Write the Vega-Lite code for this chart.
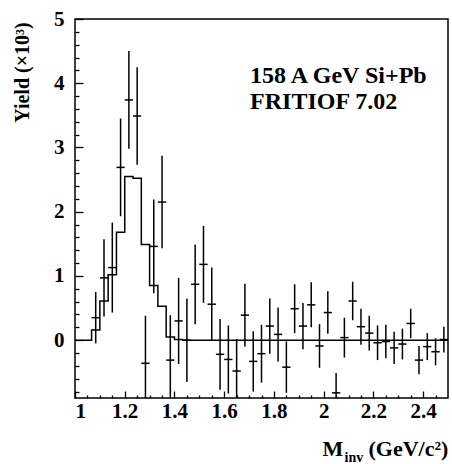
{
  "$schema": "https://vega.github.io/schema/vega-lite/v6.json",
  "width": 373,
  "height": 379,
  "autosize": "none",
  "padding": {"left": 75, "top": 19, "right": 4, "bottom": 66},
  "background": "white",
  "config": {
    "view": {"stroke": "black", "strokeWidth": 1.5},
    "font": "Liberation Serif",
    "axis": {"grid": false, "domain": false, "tickColor": "black", "tickWidth": 1.3, "labelColor": "black", "titleColor": "black", "labelFont": "Liberation Serif", "titleFont": "Liberation Serif", "labelFontWeight": "bold", "titleFontWeight": "bold", "labelFontSize": 21, "titleFontSize": 20}
  },
  "datasets": {
    "hist": [
      {"x": 1.0, "y": 0}, {"x": 1.0667, "y": 0.16}, {"x": 1.1, "y": 0.61}, {"x": 1.1333, "y": 1.02},
      {"x": 1.1667, "y": 1.68}, {"x": 1.2, "y": 2.55}, {"x": 1.2333, "y": 2.52}, {"x": 1.2667, "y": 1.49},
      {"x": 1.3, "y": 0.85}, {"x": 1.3333, "y": 0.53}, {"x": 1.3667, "y": 0.05}, {"x": 1.4, "y": 0.01},
      {"x": 1.4333, "y": 0}, {"x": 2.5, "y": 0}
    ],
    "pts": [
      {"x": 1.0833, "y": 0.35, "lo": -0.05, "hi": 0.75, "xl": 1.0667, "xr": 1.1},
      {"x": 1.1167, "y": 0.97, "lo": 0.37, "hi": 1.57, "xl": 1.1, "xr": 1.1333},
      {"x": 1.15, "y": 1.13, "lo": 0.43, "hi": 1.83, "xl": 1.1333, "xr": 1.1667},
      {"x": 1.1833, "y": 2.69, "lo": 1.93, "hi": 3.45, "xl": 1.1667, "xr": 1.2},
      {"x": 1.2167, "y": 3.74, "lo": 2.98, "hi": 4.5, "xl": 1.2, "xr": 1.2333},
      {"x": 1.25, "y": 3.49, "lo": 2.73, "hi": 4.25, "xl": 1.2333, "xr": 1.2667},
      {"x": 1.2833, "y": -0.36, "lo": -1.1, "hi": 0.38, "xl": 1.2667, "xr": 1.3},
      {"x": 1.3167, "y": 1.46, "lo": 0.73, "hi": 2.19, "xl": 1.3, "xr": 1.3333},
      {"x": 1.35, "y": 2.15, "lo": 1.43, "hi": 2.87, "xl": 1.3333, "xr": 1.3667},
      {"x": 1.3833, "y": -0.31, "lo": -1.01, "hi": 0.39, "xl": 1.3667, "xr": 1.4},
      {"x": 1.4167, "y": 0.3, "lo": -0.37, "hi": 0.97, "xl": 1.4, "xr": 1.4333},
      {"x": 1.45, "y": 0.0, "lo": -0.65, "hi": 0.65, "xl": 1.4333, "xr": 1.4667},
      {"x": 1.4833, "y": 0.87, "lo": 0.25, "hi": 1.49, "xl": 1.4667, "xr": 1.5},
      {"x": 1.5167, "y": 1.18, "lo": 0.58, "hi": 1.78, "xl": 1.5, "xr": 1.5333},
      {"x": 1.55, "y": 0.56, "lo": -0.01, "hi": 1.13, "xl": 1.5333, "xr": 1.5667},
      {"x": 1.5833, "y": -0.22, "lo": -0.77, "hi": 0.33, "xl": 1.5667, "xr": 1.6},
      {"x": 1.6167, "y": -0.3, "lo": -0.83, "hi": 0.23, "xl": 1.6, "xr": 1.6333},
      {"x": 1.65, "y": -0.48, "lo": -0.98, "hi": 0.02, "xl": 1.6333, "xr": 1.6667},
      {"x": 1.6833, "y": 0.39, "lo": -0.1, "hi": 0.88, "xl": 1.6667, "xr": 1.7},
      {"x": 1.7167, "y": -0.33, "lo": -0.8, "hi": 0.14, "xl": 1.7, "xr": 1.7333},
      {"x": 1.75, "y": -0.21, "lo": -0.66, "hi": 0.24, "xl": 1.7333, "xr": 1.7667},
      {"x": 1.7833, "y": 0.22, "lo": -0.21, "hi": 0.65, "xl": 1.7667, "xr": 1.8},
      {"x": 1.8167, "y": 0.09, "lo": -0.33, "hi": 0.51, "xl": 1.8, "xr": 1.8333},
      {"x": 1.85, "y": -0.42, "lo": -0.82, "hi": -0.02, "xl": 1.8333, "xr": 1.8667},
      {"x": 1.8833, "y": 0.49, "lo": 0.11, "hi": 0.87, "xl": 1.8667, "xr": 1.9},
      {"x": 1.9167, "y": 0.22, "lo": -0.14, "hi": 0.58, "xl": 1.9, "xr": 1.9333},
      {"x": 1.95, "y": 0.55, "lo": 0.2, "hi": 0.9, "xl": 1.9333, "xr": 1.9667},
      {"x": 1.9833, "y": -0.09, "lo": -0.43, "hi": 0.25, "xl": 1.9667, "xr": 2.0},
      {"x": 2.0167, "y": 0.43, "lo": 0.1, "hi": 0.76, "xl": 2.0, "xr": 2.0333},
      {"x": 2.05, "y": -0.82, "lo": -1.13, "hi": -0.51, "xl": 2.0333, "xr": 2.0667},
      {"x": 2.0833, "y": 0.04, "lo": -0.27, "hi": 0.35, "xl": 2.0667, "xr": 2.1},
      {"x": 2.1167, "y": 0.61, "lo": 0.31, "hi": 0.91, "xl": 2.1, "xr": 2.1333},
      {"x": 2.15, "y": 0.21, "lo": -0.07, "hi": 0.49, "xl": 2.1333, "xr": 2.1667},
      {"x": 2.1833, "y": 0.11, "lo": -0.16, "hi": 0.38, "xl": 2.1667, "xr": 2.2},
      {"x": 2.2167, "y": -0.04, "lo": -0.31, "hi": 0.23, "xl": 2.2, "xr": 2.2333},
      {"x": 2.25, "y": -0.02, "lo": -0.28, "hi": 0.24, "xl": 2.2333, "xr": 2.2667},
      {"x": 2.2833, "y": -0.12, "lo": -0.37, "hi": 0.13, "xl": 2.2667, "xr": 2.3},
      {"x": 2.3167, "y": -0.06, "lo": -0.3, "hi": 0.18, "xl": 2.3, "xr": 2.3333},
      {"x": 2.35, "y": 0.26, "lo": 0.03, "hi": 0.49, "xl": 2.3333, "xr": 2.3667},
      {"x": 2.3833, "y": -0.31, "lo": -0.53, "hi": -0.09, "xl": 2.3667, "xr": 2.4},
      {"x": 2.4167, "y": -0.1, "lo": -0.31, "hi": 0.11, "xl": 2.4, "xr": 2.4333},
      {"x": 2.45, "y": -0.18, "lo": -0.39, "hi": 0.03, "xl": 2.4333, "xr": 2.4667},
      {"x": 2.4833, "y": 0.01, "lo": -0.19, "hi": 0.21, "xl": 2.4667, "xr": 2.5}
    ],
    "notes": [
      {"x": 1.704, "y": 4.0, "t": "158 A GeV Si+Pb"},
      {"x": 1.704, "y": 3.6, "t": "FRITIOF 7.02"}
    ]
  },
  "resolve": {"axis": {"x": "independent", "y": "independent"}},
  "layer": [
    {
      "data": {"name": "hist"},
      "mark": {"type": "line", "interpolate": "step-after", "color": "black", "strokeWidth": 1.5, "clip": true},
      "encoding": {
        "x": {"field": "x", "type": "quantitative", "scale": {"domain": [1, 2.5], "nice": false, "zero": false},
          "axis": {"orient": "bottom", "values": [1, 1.2, 1.4, 1.6, 1.8, 2, 2.2, 2.4], "format": "~g", "tickSize": -7, "labelPadding": 9,
            "title": "M", "titleFontSize": 22, "titleX": 247, "titleY": 57, "titleAlign": "left", "titleBaseline": "alphabetic"}},
        "y": {"field": "y", "type": "quantitative", "scale": {"domain": [-0.9, 5], "nice": false, "zero": false},
          "axis": {"orient": "left", "values": [0, 1, 2, 3, 4, 5], "tickSize": -8, "labelPadding": 19,
            "title": "Yield (×10³)", "titleX": -53, "titleY": 53, "titleAngle": -90, "titleAlign": "center", "titleBaseline": "middle"}}
      }
    },
    {
      "data": {"name": "pts"},
      "mark": {"type": "rule", "color": "black", "strokeWidth": 1.5, "clip": true},
      "encoding": {
        "x": {"field": "x", "type": "quantitative", "scale": {"domain": [1, 2.5], "nice": false, "zero": false},
          "axis": {"orient": "bottom", "values": [1.05, 1.1, 1.15, 1.25, 1.3, 1.35, 1.45, 1.5, 1.55, 1.65, 1.7, 1.75, 1.85, 1.9, 1.95, 2.05, 2.1, 2.15, 2.25, 2.3, 2.35, 2.45], "tickSize": -3, "labels": false,
            "title": "inv", "titleFontSize": 14, "titleX": 269, "titleY": 63, "titleAlign": "left", "titleBaseline": "alphabetic"}},
        "y": {"field": "lo", "type": "quantitative", "scale": {"domain": [-0.9, 5], "nice": false, "zero": false},
          "axis": {"orient": "left", "values": [-0.8, -0.6, -0.4, -0.2, 0.2, 0.4, 0.6, 0.8, 1.2, 1.4, 1.6, 1.8, 2.2, 2.4, 2.6, 2.8, 3.2, 3.4, 3.6, 3.8, 4.2, 4.4, 4.6, 4.8], "tickSize": -4, "labels": false, "title": null}},
        "y2": {"field": "hi"}
      }
    },
    {
      "data": {"name": "pts"},
      "mark": {"type": "rule", "color": "black", "strokeWidth": 1.5, "clip": true},
      "encoding": {
        "x": {"field": "xl", "type": "quantitative", "scale": {"domain": [1, 2.5], "nice": false, "zero": false},
          "axis": {"orient": "bottom", "ticks": false, "labels": false,
            "title": "(GeV/c²)", "titleFontSize": 22, "titleX": 293, "titleY": 57, "titleAlign": "left", "titleBaseline": "alphabetic"}},
        "x2": {"field": "xr"},
        "y": {"field": "y", "type": "quantitative", "scale": {"domain": [-0.9, 5], "nice": false, "zero": false}, "axis": null}
      }
    },
    {
      "data": {"name": "notes"},
      "mark": {"type": "text", "align": "left", "baseline": "alphabetic", "font": "Liberation Serif", "fontWeight": "bold", "fontSize": 24, "color": "black"},
      "encoding": {
        "x": {"field": "x", "type": "quantitative", "scale": {"domain": [1, 2.5], "nice": false, "zero": false}, "axis": null},
        "y": {"field": "y", "type": "quantitative", "scale": {"domain": [-0.9, 5], "nice": false, "zero": false}, "axis": null},
        "text": {"field": "t", "type": "nominal"}
      }
    }
  ]
}
